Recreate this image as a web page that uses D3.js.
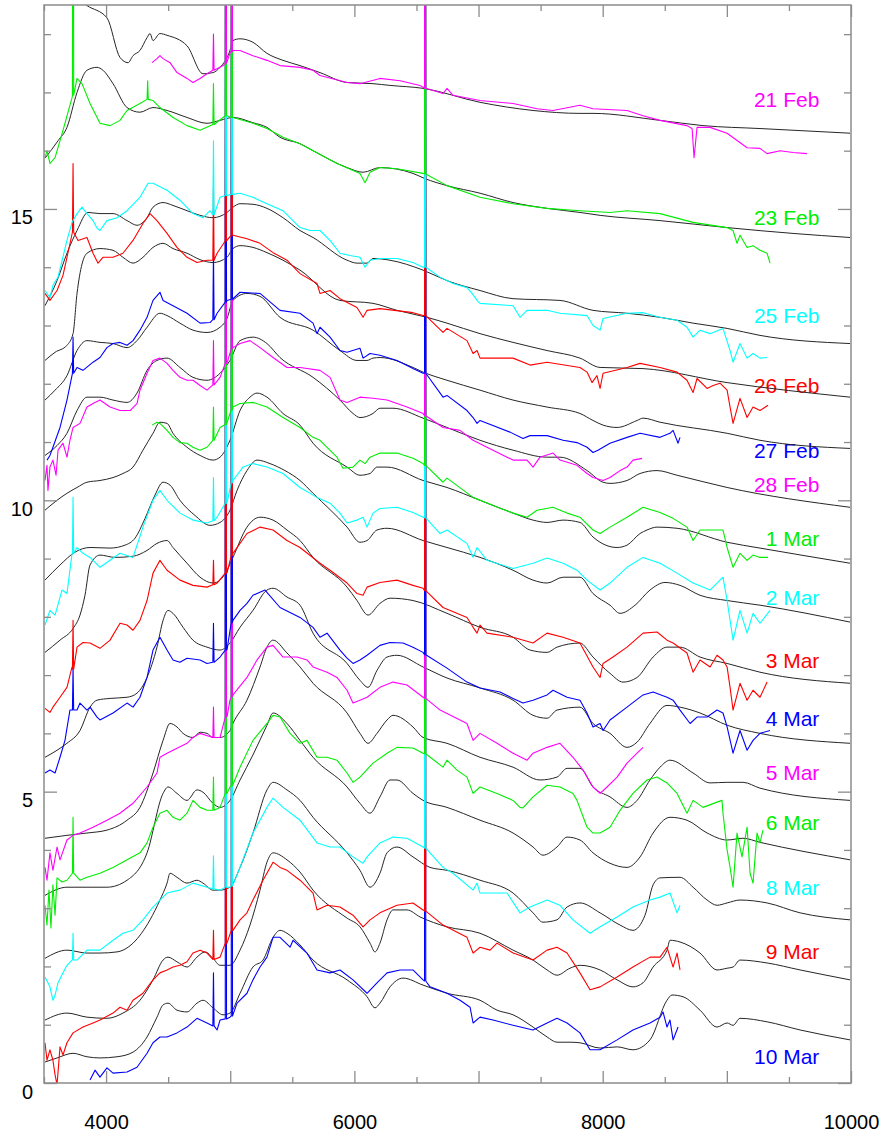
<!DOCTYPE html>
<html>
<head>
<meta charset="utf-8">
<script src="https://cdn.jsdelivr.net/npm/d3@7"></script>
<style>
  body { margin: 0; background: #fff; }
  text { font-family: "Liberation Sans", Arial, Helvetica, sans-serif; }
</style>
</head>
<body>
<svg id="chart" width="885" height="1133"></svg>
<script>
// epochs, top to bottom
const epochs = ["21 Feb", "23 Feb", "25 Feb", "26 Feb", "27 Feb", "28 Feb", "1 Mar", "2 Mar",
  "3 Mar", "4 Mar", "5 Mar", "6 Mar", "8 Mar", "9 Mar", "10 Mar"];
// vertical level of each date label (flux units)
const labelLevels = [16.88, 14.85, 13.17, 11.97, 10.86, 10.27, 9.35, 8.34, 7.26, 6.25, 5.33, 4.48, 3.36, 2.25, 0.45];
const labelWave = 9745;

const xTicksMinor = d3.range(3500, 10001, 500);
const xTicksMajor = [4000, 5000, 6000, 7000, 8000, 9000, 10000];
const xTickLabels = [4000, 6000, 8000, 10000];
const yTicksMinor = d3.range(0, 19, 1);
const yTickLabels = [0, 5, 10, 15];

// observed spectra [wavelength (A), flux + offset]
const obs21Feb = [[4370,17.51],[4410,17.58],[4434,17.63],[4459,17.58],[4515,17.51],[4571,17.34],[4652,17.24],[4700,17.17],[4757,17.24],[4813,17.32],[4861,17.38],[4942,17.46],[4998,17.67],[5022,17.72],[5079,17.72],[5183,17.63],[5296,17.55],[5401,17.46],[5562,17.43],[5667,17.38],[5723,17.29],[5941,17.17],[6045,17.15],[6206,17.24],[6368,17.2],[6529,17.12],[6569,17.07],[6714,16.98],[6746,17.07],[6794,16.95],[7012,16.86],[7278,16.81],[7471,16.72],[7600,16.69],[7817,16.78],[7922,16.72],[8196,16.69],[8325,16.6],[8462,16.52],[8679,16.43],[8720,16.38],[8736,15.88],[8760,16.4],[8865,16.4],[9002,16.3],[9163,16.05],[9267,16.04],[9324,15.95],[9429,16.0],[9533,15.97],[9646,15.95]];
const obs23Feb = [[3508,15.88],[3524,16.0],[3548,15.78],[3589,15.88],[3653,16.35],[3726,16.91],[3766,17.24],[3806,17.15],[3871,16.81],[3951,16.47],[4032,16.43],[4112,16.52],[4169,16.69],[4273,16.81],[4330,16.9],[4378,16.86],[4434,16.74],[4539,16.57],[4652,16.43],[4757,16.35],[4861,16.47],[4974,16.6],[5022,16.57],[5183,16.47],[5296,16.38],[5425,16.23],[5562,16.12],[5667,16.0],[5860,15.78],[6045,15.61],[6086,15.45],[6126,15.63],[6206,15.71],[6343,15.69],[6553,15.61],[6746,15.4],[7012,15.2],[7278,15.09],[7552,15.01],[7817,14.97],[8059,14.94],[8196,14.97],[8462,14.92],[8728,14.77],[9002,14.68],[9050,14.63],[9082,14.41],[9106,14.55],[9163,14.34],[9211,14.37],[9267,14.29],[9324,14.24],[9348,14.07]];
const obs25Feb = [[3508,13.6],[3548,13.48],[3572,13.69],[3613,13.83],[3685,14.46],[3726,14.77],[3766,14.92],[3806,15.03],[3846,14.92],[3895,14.8],[3927,14.67],[3951,14.63],[4007,14.8],[4088,14.85],[4169,14.97],[4273,15.2],[4338,15.44],[4378,15.44],[4491,15.32],[4595,15.15],[4700,14.92],[4781,14.85],[4837,14.97],[4918,15.2],[4974,15.23],[5079,15.27],[5183,15.2],[5296,15.09],[5425,14.97],[5562,14.68],[5643,14.63],[5723,14.63],[5804,14.46],[5884,14.24],[5965,14.2],[6045,14.17],[6086,14.0],[6126,14.12],[6206,14.15],[6343,14.15],[6472,14.08],[6553,14.0],[6690,13.83],[6794,13.72],[6907,13.65],[6948,13.55],[6988,13.43],[7012,13.38],[7278,13.34],[7334,13.14],[7391,13.26],[7552,13.26],[7656,13.21],[7874,13.17],[7922,13.0],[7979,12.92],[8003,13.12],[8196,13.21],[8325,13.22],[8462,13.14],[8599,13.09],[8679,12.97],[8728,12.8],[8784,12.92],[8865,12.86],[8969,12.95],[9026,12.57],[9050,12.37],[9106,12.69],[9163,12.44],[9211,12.52],[9267,12.44],[9324,12.45]];
const obs26Feb = [[3508,13.55],[3548,13.43],[3605,13.6],[3653,13.86],[3685,14.17],[3734,14.63],[3774,14.46],[3846,14.51],[3895,14.24],[3935,14.07],[3975,14.17],[4056,14.17],[4136,14.24],[4217,14.46],[4297,14.75],[4354,14.92],[4410,14.8],[4491,14.58],[4571,14.34],[4652,14.17],[4732,14.08],[4813,14.12],[4894,14.24],[4974,14.46],[5022,14.55],[5135,14.49],[5240,14.41],[5345,14.25],[5457,14.12],[5562,13.89],[5699,13.72],[5723,13.55],[5804,13.6],[5884,13.46],[6021,13.31],[6070,13.14],[6102,13.26],[6206,13.29],[6472,13.22],[6553,13.17],[6714,12.88],[6746,12.95],[6907,12.74],[6956,12.52],[6988,12.57],[7012,12.44],[7278,12.44],[7415,12.32],[7552,12.37],[7817,12.28],[7874,12.2],[7914,12.02],[7954,12.14],[7979,11.92],[8003,12.18],[8196,12.28],[8301,12.35],[8462,12.28],[8599,12.2],[8679,12.06],[8728,11.85],[8760,12.09],[8841,11.92],[8889,11.97],[8945,12.01],[9002,11.89],[9026,11.6],[9050,11.32],[9106,11.75],[9163,11.42],[9211,11.6],[9267,11.54],[9332,11.63]];
const obs27Feb = [[3524,10.69],[3548,10.77],[3572,10.91],[3629,11.25],[3685,11.72],[3734,12.18],[3766,12.28],[3814,12.23],[3895,12.37],[3951,12.45],[4007,12.62],[4056,12.69],[4112,12.71],[4169,12.66],[4217,12.74],[4273,12.92],[4330,13.14],[4378,13.43],[4434,13.57],[4459,13.43],[4539,13.34],[4652,13.21],[4757,13.04],[4837,13.05],[4894,13.21],[4974,13.43],[5079,13.57],[5240,13.55],[5401,13.26],[5562,13.21],[5667,13.04],[5699,12.86],[5723,12.97],[5804,12.8],[5884,12.57],[5941,12.54],[6045,12.61],[6070,12.44],[6126,12.52],[6206,12.49],[6343,12.4],[6472,12.26],[6553,12.18],[6714,11.77],[6746,11.8],[6907,11.54],[6956,11.42],[6988,11.32],[7012,11.37],[7254,11.17],[7358,11.06],[7415,11.11],[7552,11.11],[7681,11.03],[7793,10.99],[7874,10.91],[7922,10.82],[7962,10.86],[8059,10.98],[8196,11.08],[8301,11.15],[8462,11.08],[8542,11.15],[8567,11.2],[8607,10.98],[8623,11.08]];
const obs28Feb = [[3508,10.34],[3524,10.6],[3532,10.17],[3548,10.57],[3572,10.69],[3597,10.43],[3613,10.86],[3653,10.98],[3685,10.74],[3709,11.03],[3734,11.25],[3790,11.32],[3846,11.6],[3895,11.66],[3951,11.72],[4032,11.6],[4112,11.54],[4193,11.54],[4249,11.66],[4273,11.89],[4330,12.18],[4378,12.4],[4434,12.44],[4491,12.35],[4539,12.23],[4595,12.11],[4652,12.06],[4700,12.06],[4757,11.97],[4813,11.89],[4861,12.01],[4918,12.11],[4974,12.35],[5022,12.62],[5079,12.69],[5159,12.74],[5240,12.62],[5345,12.45],[5457,12.28],[5562,12.28],[5723,12.23],[5804,12.11],[5884,11.72],[5941,11.68],[6045,11.77],[6150,11.75],[6263,11.72],[6424,11.6],[6529,11.51],[6553,11.49],[6714,11.25],[6851,11.2],[6956,11.03],[7068,10.91],[7230,10.74],[7278,10.69],[7391,10.69],[7439,10.57],[7495,10.74],[7600,10.81],[7656,10.69],[7793,10.6],[7874,10.46],[7922,10.39],[8003,10.34],[8059,10.39],[8140,10.51],[8196,10.57],[8244,10.69],[8317,10.72]];
const obs1Mar = [[4370,11.29],[4410,11.34],[4434,11.32],[4491,11.2],[4539,11.08],[4595,10.99],[4652,10.98],[4700,10.91],[4757,10.86],[4813,10.91],[4861,11.03],[4918,11.25],[4998,11.49],[5022,11.6],[5079,11.66],[5183,11.68],[5296,11.6],[5425,11.42],[5562,11.25],[5667,11.08],[5723,11.03],[5780,10.91],[5860,10.74],[5908,10.55],[5989,10.57],[6045,10.69],[6086,10.63],[6126,10.74],[6206,10.81],[6343,10.81],[6472,10.72],[6553,10.63],[6714,10.31],[6746,10.38],[6956,10.05],[7117,9.91],[7278,9.78],[7391,9.71],[7471,9.83],[7600,9.88],[7713,9.78],[7817,9.71],[7922,9.49],[7979,9.43],[8059,9.54],[8196,9.71],[8325,9.88],[8462,9.79],[8567,9.69],[8679,9.54],[8728,9.31],[8784,9.49],[8889,9.49],[8969,9.49],[9002,9.19],[9050,8.85],[9106,9.09],[9163,8.97],[9211,9.06],[9267,9.02],[9332,9.02]];
const obs2Mar = [[3508,7.86],[3548,8.11],[3589,8.03],[3645,8.46],[3685,8.4],[3726,9.09],[3766,9.19],[3814,9.09],[3871,9.02],[3951,8.85],[4032,8.97],[4112,9.09],[4217,9.02],[4297,9.54],[4378,10.0],[4434,10.17],[4491,10.0],[4595,9.78],[4700,9.66],[4813,9.61],[4894,9.71],[4974,9.95],[5022,10.34],[5103,10.57],[5183,10.63],[5296,10.57],[5425,10.46],[5562,10.22],[5699,10.05],[5804,9.95],[5884,9.78],[5941,9.61],[6021,9.66],[6070,9.71],[6102,9.54],[6150,9.78],[6206,9.86],[6343,9.88],[6472,9.79],[6553,9.71],[6690,9.43],[6746,9.49],[6907,9.26],[6956,9.02],[6988,9.19],[7068,8.97],[7278,8.83],[7439,8.92],[7552,9.01],[7681,8.92],[7793,8.8],[7874,8.63],[7979,8.46],[8059,8.58],[8196,8.85],[8325,9.02],[8462,8.92],[8599,8.75],[8728,8.58],[8865,8.46],[8969,8.68],[9002,8.28],[9050,7.6],[9106,8.11],[9163,7.72],[9211,8.06],[9267,7.89],[9348,8.11]];
const obs3Mar = [[3508,6.43],[3548,6.36],[3572,6.45],[3629,6.62],[3685,6.79],[3726,7.14],[3766,7.48],[3814,7.56],[3871,7.55],[3951,7.46],[4032,7.6],[4112,7.89],[4169,7.86],[4217,7.77],[4273,7.94],[4330,8.28],[4378,8.75],[4434,8.97],[4491,8.8],[4595,8.63],[4700,8.54],[4813,8.51],[4894,8.58],[4974,8.75],[5022,9.09],[5135,9.43],[5240,9.54],[5345,9.49],[5457,9.31],[5562,9.19],[5723,8.92],[5804,8.8],[5941,8.58],[6021,8.4],[6070,8.37],[6102,8.51],[6206,8.59],[6343,8.63],[6472,8.54],[6553,8.49],[6714,8.16],[6907,7.99],[6956,7.82],[6988,7.72],[7012,7.86],[7068,7.72],[7278,7.65],[7439,7.55],[7552,7.72],[7681,7.65],[7817,7.55],[7922,7.14],[7979,6.96],[8003,7.2],[8083,7.31],[8196,7.48],[8325,7.72],[8438,7.74],[8518,7.6],[8567,7.55],[8679,7.38],[8728,7.05],[8784,7.26],[8865,7.14],[8921,7.34],[8969,7.26],[9002,7.14],[9026,6.79],[9050,6.4],[9106,6.86],[9163,6.57],[9211,6.74],[9267,6.62],[9324,6.88]];
const obs4Mar = [[3508,5.32],[3548,5.37],[3589,5.32],[3629,5.59],[3669,5.88],[3709,6.4],[3766,6.4],[3790,6.52],[3846,6.4],[3871,6.45],[3927,6.28],[3951,6.23],[4056,6.35],[4169,6.52],[4217,6.45],[4273,6.62],[4330,6.96],[4378,7.43],[4434,7.65],[4491,7.43],[4539,7.26],[4595,7.22],[4652,7.29],[4757,7.26],[4813,7.2],[4861,7.22],[4918,7.31],[4974,7.43],[5022,7.94],[5079,8.11],[5135,8.23],[5183,8.37],[5280,8.46],[5401,8.16],[5562,7.99],[5667,7.82],[5723,7.65],[5780,7.72],[5884,7.43],[5941,7.29],[5989,7.2],[6045,7.26],[6102,7.34],[6206,7.51],[6287,7.56],[6392,7.55],[6472,7.48],[6553,7.39],[6746,7.12],[6907,6.88],[7012,6.78],[7173,6.71],[7278,6.6],[7358,6.52],[7439,6.57],[7552,6.66],[7600,6.74],[7713,6.62],[7817,6.57],[7874,6.35],[7922,6.11],[7979,6.17],[8003,6.05],[8059,6.23],[8196,6.45],[8325,6.66],[8406,6.71],[8518,6.62],[8567,6.57],[8623,6.4],[8704,6.17],[8760,6.28],[8841,6.28],[8921,6.4],[8969,6.35],[9002,6.11],[9050,5.66],[9106,6.05],[9163,5.71],[9211,5.88],[9267,6.0],[9348,6.05]];
const obs5Mar = [[3508,3.7],[3524,3.48],[3548,3.95],[3572,3.65],[3605,4.05],[3629,3.83],[3685,4.17],[3734,4.25],[3790,4.29],[3895,4.39],[4007,4.51],[4112,4.63],[4217,4.8],[4330,5.08],[4410,5.32],[4434,5.59],[4491,5.66],[4539,5.71],[4652,5.83],[4700,5.93],[4757,6.0],[4861,5.93],[4918,5.93],[4974,6.28],[4998,6.57],[5022,6.66],[5135,6.96],[5216,7.26],[5296,7.48],[5345,7.51],[5425,7.31],[5538,7.31],[5618,7.26],[5667,7.14],[5780,7.05],[5860,6.96],[5941,6.74],[5989,6.52],[6045,6.57],[6102,6.62],[6206,6.79],[6311,6.88],[6424,6.83],[6553,6.62],[6690,6.4],[6907,6.17],[6956,5.88],[7012,6.0],[7149,5.83],[7278,5.66],[7391,5.54],[7439,5.66],[7552,5.76],[7656,5.83],[7761,5.59],[7842,5.37],[7922,5.08],[7979,4.97],[8035,5.08],[8116,5.25],[8196,5.49],[8277,5.66],[8325,5.76]];
const obs6Mar = [[3508,3.05],[3524,2.71],[3540,3.31],[3556,2.66],[3572,3.4],[3589,2.88],[3605,3.52],[3645,3.45],[3685,3.48],[3734,3.6],[3790,3.48],[3846,3.53],[3951,3.6],[4056,3.7],[4169,3.83],[4273,3.95],[4330,4.12],[4378,4.39],[4434,4.63],[4491,4.68],[4539,4.56],[4595,4.51],[4652,4.63],[4700,4.85],[4757,4.73],[4813,4.68],[4861,4.68],[4918,4.73],[4974,4.97],[4998,5.08],[5079,5.42],[5183,5.88],[5296,6.17],[5345,6.31],[5401,6.28],[5482,6.0],[5562,5.83],[5618,5.88],[5699,5.59],[5780,5.59],[5860,5.54],[5941,5.32],[5989,5.16],[6045,5.25],[6150,5.49],[6263,5.66],[6343,5.76],[6472,5.75],[6553,5.66],[6714,5.42],[6746,5.54],[6827,5.37],[6907,5.25],[6956,4.97],[7012,5.08],[7149,4.97],[7278,4.85],[7334,4.73],[7358,4.72],[7439,4.91],[7552,5.11],[7656,5.08],[7761,4.97],[7793,4.85],[7874,4.39],[7922,4.29],[7979,4.29],[8059,4.39],[8140,4.68],[8244,4.97],[8357,5.2],[8438,5.25],[8518,5.15],[8599,4.97],[8679,4.63],[8728,4.85],[8808,4.73],[8921,4.82],[8961,4.85],[8969,4.63],[9002,4.0],[9026,3.7],[9050,3.36],[9082,4.29],[9122,3.88],[9163,4.39],[9187,3.6],[9211,3.43],[9243,4.29],[9267,4.12],[9291,4.34]];
const obs8Mar = [[3508,1.82],[3548,1.65],[3572,1.42],[3589,1.51],[3613,1.72],[3653,1.89],[3685,2.02],[3726,2.11],[3766,2.11],[3846,2.28],[3951,2.28],[4056,2.45],[4136,2.57],[4217,2.62],[4297,2.8],[4378,3.02],[4434,3.14],[4491,3.26],[4595,3.31],[4700,3.43],[4813,3.36],[4918,3.31],[4998,3.36],[5079,3.7],[5183,4.29],[5296,4.73],[5345,4.89],[5425,4.73],[5562,4.51],[5699,4.12],[5804,4.05],[5884,4.05],[5989,3.88],[6070,3.77],[6102,3.88],[6206,4.12],[6311,4.22],[6424,4.2],[6553,4.05],[6714,3.7],[6794,3.6],[6956,3.31],[6988,3.43],[7012,3.26],[7230,3.26],[7334,2.92],[7415,3.02],[7552,3.14],[7656,3.05],[7761,2.8],[7898,2.57],[7979,2.68],[8116,2.85],[8244,3.02],[8381,3.14],[8462,3.19],[8542,3.26],[8599,2.92],[8623,3.05]];
const obs9Mar = [[3508,0.69],[3524,0.39],[3548,0.57],[3572,0.39],[3589,0.14],[3605,-0.03],[3629,0.62],[3653,0.48],[3685,0.69],[3734,0.86],[3814,0.96],[3895,1.03],[3951,1.08],[4056,1.2],[4112,1.3],[4169,1.25],[4217,1.42],[4297,1.54],[4378,1.77],[4434,1.89],[4491,1.94],[4539,1.99],[4595,2.02],[4652,2.08],[4700,2.23],[4757,2.28],[4813,2.23],[4861,2.11],[4918,2.16],[4974,2.4],[5022,2.62],[5079,2.8],[5135,2.92],[5183,3.14],[5264,3.48],[5345,3.79],[5401,3.7],[5457,3.65],[5562,3.48],[5667,3.26],[5699,2.97],[5780,3.05],[5884,3.02],[5989,2.88],[6070,2.68],[6126,2.8],[6206,2.92],[6343,3.05],[6472,3.09],[6553,2.97],[6714,2.71],[6907,2.5],[6956,2.23],[7012,2.33],[7093,2.28],[7149,2.4],[7278,2.23],[7439,2.11],[7552,2.28],[7632,2.33],[7713,2.23],[7817,1.89],[7898,1.6],[7979,1.65],[8116,1.82],[8244,1.99],[8381,2.16],[8462,2.16],[8518,2.33],[8567,1.99],[8599,2.23],[8623,1.94]];
const obs10Mar = [[3871,0.05],[3911,0.22],[3951,0.1],[4007,0.26],[4056,0.17],[4169,0.19],[4249,0.27],[4330,0.51],[4378,0.69],[4434,0.79],[4491,0.79],[4571,0.86],[4652,0.96],[4732,1.11],[4813,1.03],[4894,0.91],[4918,1.08],[4998,1.13],[5055,1.37],[5135,1.54],[5183,1.77],[5240,1.99],[5296,2.16],[5345,2.5],[5401,2.5],[5482,2.33],[5506,2.45],[5618,2.23],[5699,1.94],[5804,1.89],[5884,1.94],[5989,1.77],[6102,1.54],[6182,1.72],[6263,1.89],[6368,1.94],[6472,1.94],[6553,1.77],[6609,1.65],[6746,1.54],[6851,1.42],[6932,1.3],[6956,1.03],[7012,1.13],[7117,1.08],[7278,0.99],[7439,0.91],[7552,1.03],[7632,1.11],[7713,1.03],[7817,0.86],[7898,0.57],[7979,0.57],[8116,0.74],[8244,0.91],[8381,1.03],[8462,1.13],[8486,1.22],[8518,0.96],[8542,1.08],[8567,0.74],[8607,0.96]];

// narrow emission lines of each observed spectrum: [wavelength, continuum, peak]
const lines21Feb = [[4865,17.38,18.0],[4965,17.5,30],[5013,17.7,30],[6570,17.07,30]];
const lines23Feb = [[3734,16.95,30],[4335,16.88,17.2],[4865,16.45,17.15],[4965,16.6,30],[5013,16.57,30],[6570,15.6,30]];
const lines25Feb = [[4865,14.9,16.17],[4965,15.23,30],[5013,15.25,30],[6570,14.0,30]];
const lines26Feb = [[3734,14.6,15.78],[4865,14.12,15.37],[4965,14.45,30],[5013,14.55,30],[6570,13.17,30]];
const lines27Feb = [[3734,12.18,12.8],[4865,13.1,14.29],[4965,13.4,30],[5013,13.45,30],[6570,12.18,30]];
const lines28Feb = [[4865,11.98,12.74],[4965,12.35,30],[5013,12.6,30],[6570,11.45,30]];
const lines1Mar = [[4865,11.03,11.6],[4965,11.3,30],[5013,11.55,30],[6570,10.6,30]];
const lines2Mar = [[3734,9.09,10.05],[4865,9.65,10.39],[4965,9.95,30],[5013,10.3,30],[6570,9.7,30]];
const lines3Mar = [[3734,7.1,7.94],[4865,8.55,8.97],[4965,8.75,30],[5013,9.05,30],[6570,8.45,30]];
const lines4Mar = [[3734,6.4,7.14],[4865,7.22,7.89],[4965,7.43,30],[5013,7.9,30],[6570,7.35,30]];
const lines5Mar = [[4865,5.93,6.45],[4965,6.28,30],[5013,6.63,30],[6570,6.6,30]];
const lines6Mar = [[3734,3.6,4.56],[4865,4.68,5.25],[4965,4.97,30],[5013,5.1,30],[6570,5.65,30]];
const lines8Mar = [[3734,2.11,2.57],[4865,3.33,3.9],[4965,3.36,30],[5013,3.38,30],[6570,4.03,30]];
const lines9Mar = [[4865,2.12,2.62],[4965,2.4,30],[5013,2.62,30],[6570,2.95,30]];
const lines10Mar = [[4865,0.98,1.89],[4965,1.1,30],[5013,1.15,30],[6570,1.75,30]];

// model spectra
const mod21Feb = [[3510,19.09],[3685,18.75],[3846,18.49],[4007,18.28],[4112,17.6],[4177,17.51],[4217,17.63],[4273,17.72],[4330,17.94],[4354,18.01],[4378,17.89],[4434,18.01],[4491,17.98],[4652,17.8],[4781,17.32],[4861,17.34],[4918,17.43],[4998,17.72],[5022,17.89],[5079,17.92],[5183,17.86],[5296,17.67],[5425,17.55],[5562,17.46],[5723,17.34],[5941,17.17],[6150,17.15],[6287,17.12],[6553,17.07],[7012,16.83],[7439,16.69],[7817,16.64],[7922,16.64],[8462,16.52],[8808,16.43],[9267,16.38],[9992,16.3]];
const mod23Feb = [[3508,15.87],[3613,16.17],[3685,16.4],[3766,17.0],[3846,17.38],[3927,17.43],[3975,17.38],[4056,17.15],[4169,16.74],[4273,16.66],[4378,16.74],[4491,16.69],[4652,16.57],[4813,16.47],[4918,16.52],[5022,16.57],[5183,16.48],[5296,16.4],[5401,16.23],[5562,16.12],[5667,16.0],[5941,15.71],[6070,15.63],[6206,15.71],[6472,15.61],[6569,15.52],[6746,15.4],[7012,15.27],[7278,15.11],[7552,15.01],[7817,14.94],[7979,14.89],[8462,14.8],[9002,14.68],[9533,14.58],[9992,14.51]];
const mod25Feb = [[3508,13.34],[3605,13.77],[3685,14.24],[3766,14.63],[3854,14.94],[3951,14.92],[4056,14.92],[4169,14.8],[4249,14.72],[4330,14.85],[4378,15.03],[4459,15.11],[4539,15.06],[4652,14.97],[4757,14.89],[4861,14.85],[4974,14.94],[5022,15.03],[5079,15.09],[5183,15.08],[5296,15.01],[5425,14.85],[5562,14.63],[5667,14.51],[5941,14.12],[6021,14.07],[6102,14.07],[6150,14.15],[6287,14.12],[6553,13.95],[6746,13.77],[7012,13.6],[7278,13.46],[7656,13.43],[7922,13.26],[8196,13.21],[8462,13.14],[8728,13.04],[9002,12.95],[9267,12.83],[9992,12.69]];
const mod26Feb = [[3508,12.4],[3589,12.54],[3685,12.66],[3734,12.86],[3766,13.55],[3846,14.24],[3951,14.32],[4056,14.29],[4136,14.17],[4217,14.07],[4297,14.17],[4378,14.34],[4459,14.41],[4539,14.32],[4652,14.24],[4757,14.13],[4861,14.08],[4974,14.17],[5022,14.32],[5079,14.37],[5183,14.34],[5296,14.25],[5425,14.12],[5562,13.95],[5884,13.43],[6150,13.38],[6343,13.26],[6585,13.14],[6746,13.04],[7012,12.86],[7278,12.71],[7552,12.57],[7817,12.44],[7979,12.28],[8325,12.26],[9002,12.02],[9992,11.77]];
const mod27Feb = [[3508,11.72],[3589,11.89],[3685,12.14],[3766,12.57],[3846,12.74],[3951,12.71],[4056,12.69],[4169,12.62],[4249,12.74],[4330,12.97],[4434,13.21],[4491,13.17],[4595,13.04],[4700,12.92],[4813,12.88],[4918,12.97],[4974,13.12],[5022,13.43],[5135,13.55],[5240,13.5],[5401,13.14],[5667,12.92],[5884,12.57],[6021,12.4],[6102,12.4],[6150,12.44],[6206,12.45],[6472,12.28],[6553,12.2],[6746,12.06],[7012,11.89],[7278,11.72],[7552,11.6],[7817,11.49],[7922,11.37],[8003,11.29],[8116,11.25],[8277,11.37],[8325,11.41],[8462,11.34],[9002,11.15],[9267,11.03],[9992,10.89]];
const mod28Feb = [[3508,10.77],[3605,10.94],[3685,11.15],[3766,11.54],[3846,11.77],[3951,11.77],[4056,11.72],[4169,11.68],[4249,11.84],[4330,12.23],[4410,12.4],[4491,12.44],[4595,12.28],[4700,12.11],[4813,12.06],[4918,12.18],[4998,12.4],[5079,12.74],[5183,12.8],[5296,12.69],[5401,12.45],[5667,12.11],[5884,11.72],[5989,11.49],[6045,11.42],[6150,11.49],[6206,11.58],[6311,11.58],[6553,11.41],[6746,11.25],[7012,11.03],[7278,10.86],[7552,10.74],[7656,10.74],[7874,10.51],[8003,10.31],[8059,10.29],[8196,10.34],[8301,10.46],[8438,10.51],[8599,10.43],[9002,10.22],[9992,9.88]];
const mod1Mar = [[3508,9.83],[3605,10.0],[3685,10.12],[3766,10.22],[3846,10.31],[3951,10.34],[4056,10.39],[4136,10.46],[4217,10.57],[4297,10.86],[4378,11.15],[4434,11.34],[4491,11.32],[4539,11.15],[4652,10.91],[4757,10.77],[4861,10.69],[4918,10.74],[4998,11.03],[5079,11.54],[5159,11.77],[5216,11.84],[5296,11.77],[5425,11.49],[5562,11.29],[5667,10.98],[5941,10.57],[6045,10.43],[6126,10.46],[6182,10.57],[6263,10.57],[6553,10.34],[6746,10.22],[7012,10.0],[7278,9.78],[7439,9.66],[7552,9.62],[7681,9.66],[7817,9.62],[7922,9.37],[8116,9.19],[8196,9.23],[8301,9.43],[8357,9.49],[8438,9.54],[8599,9.52],[9002,9.28],[9267,9.18],[9992,8.92]];
const mod2Mar = [[3508,8.63],[3629,8.89],[3750,9.11],[3871,9.19],[4032,9.18],[4152,9.23],[4233,9.35],[4314,9.69],[4394,10.09],[4459,10.31],[4515,10.26],[4595,10.0],[4716,9.74],[4837,9.57],[4918,9.62],[4998,9.83],[5055,10.17],[5135,10.51],[5216,10.69],[5320,10.63],[5441,10.51],[5562,10.34],[5667,10.12],[5941,9.54],[6045,9.28],[6102,9.31],[6182,9.49],[6263,9.52],[6553,9.31],[6746,9.19],[7012,9.02],[7278,8.8],[7439,8.63],[7552,8.58],[7681,8.68],[7817,8.68],[7922,8.4],[8059,8.2],[8140,8.06],[8261,8.2],[8381,8.46],[8502,8.59],[8623,8.54],[8784,8.37],[9002,8.28],[9267,8.2],[9992,7.91]];
const mod3Mar = [[3508,7.39],[3629,7.6],[3734,7.8],[3790,8.03],[3830,8.37],[3871,8.89],[3951,9.06],[4072,9.02],[4217,9.04],[4330,9.14],[4410,9.26],[4491,9.31],[4539,9.19],[4652,8.92],[4757,8.68],[4861,8.58],[4918,8.63],[4974,8.8],[5022,9.02],[5135,9.54],[5240,9.71],[5345,9.66],[5457,9.49],[5562,9.31],[5667,9.02],[5941,8.51],[6021,8.28],[6110,8.03],[6206,8.23],[6287,8.32],[6472,8.28],[6746,8.06],[7012,7.82],[7278,7.65],[7415,7.43],[7552,7.39],[7632,7.48],[7817,7.55],[7922,7.31],[8059,7.03],[8164,6.88],[8277,6.96],[8406,7.31],[8518,7.48],[8623,7.48],[8784,7.31],[9002,7.2],[9267,7.05],[9992,6.86]];
const mod4Mar = [[3508,5.59],[3605,5.71],[3685,5.83],[3790,6.05],[3871,6.45],[3927,6.57],[4032,6.6],[4169,6.62],[4249,6.69],[4330,6.96],[4410,7.48],[4459,7.94],[4499,8.11],[4539,8.06],[4620,7.82],[4700,7.6],[4813,7.48],[4918,7.43],[4998,7.55],[5079,7.82],[5183,8.11],[5296,8.46],[5345,8.49],[5457,8.34],[5562,8.2],[5667,7.72],[5941,7.2],[6045,6.91],[6110,6.79],[6182,7.08],[6263,7.31],[6343,7.34],[6553,7.14],[6746,6.95],[7012,6.78],[7278,6.57],[7439,6.31],[7552,6.26],[7632,6.4],[7817,6.45],[7922,6.17],[8059,6.0],[8196,5.76],[8277,5.85],[8381,6.17],[8518,6.48],[8623,6.45],[8784,6.35],[9002,6.14],[9267,6.0],[9992,5.83]];
const mod5Mar = [[3508,4.2],[3685,4.25],[3846,4.29],[4007,4.34],[4169,4.51],[4273,4.73],[4378,5.32],[4459,5.88],[4515,6.17],[4571,6.11],[4620,6.0],[4700,5.93],[4757,6.02],[4813,6.0],[4861,5.93],[4918,5.93],[4998,6.05],[5022,6.17],[5135,6.57],[5240,7.14],[5296,7.48],[5345,7.6],[5457,7.38],[5562,7.14],[5667,6.86],[5941,6.35],[6045,6.0],[6110,5.83],[6182,6.0],[6263,6.23],[6311,6.31],[6472,6.11],[6553,5.93],[6746,5.83],[7012,5.59],[7278,5.42],[7495,5.2],[7632,5.25],[7713,5.4],[7817,5.4],[7922,5.08],[8059,4.91],[8196,4.73],[8277,4.85],[8381,5.2],[8462,5.42],[8542,5.54],[8728,5.32],[8865,5.15],[9002,5.16],[9130,5.16],[9267,5.06],[9992,4.85]];
const mod6Mar = [[3508,3.22],[3685,3.36],[3846,3.36],[4007,3.36],[4169,3.48],[4330,3.95],[4459,4.97],[4499,5.08],[4571,4.97],[4652,4.85],[4732,5.03],[4781,4.99],[4861,4.8],[4918,4.73],[4998,4.85],[5079,5.2],[5183,5.63],[5296,6.14],[5345,6.35],[5457,6.17],[5562,5.88],[5667,5.59],[5941,5.08],[6045,4.8],[6126,4.63],[6206,4.91],[6287,5.2],[6343,5.2],[6472,4.97],[6553,4.85],[6746,4.73],[7012,4.51],[7278,4.29],[7439,4.05],[7519,3.91],[7632,4.05],[7713,4.22],[7817,4.17],[7922,3.95],[8059,3.77],[8196,3.7],[8301,3.88],[8406,4.29],[8542,4.56],[8679,4.51],[8841,4.29],[9002,4.17],[9130,4.2],[9267,4.13],[9992,3.83]];
const mod8Mar = [[3508,2.14],[3685,2.28],[3846,2.23],[3951,2.23],[4088,2.25],[4217,2.4],[4354,2.8],[4434,3.14],[4491,3.43],[4515,3.6],[4571,3.53],[4652,3.43],[4732,3.48],[4781,3.43],[4861,3.31],[4918,3.31],[4998,3.36],[5079,3.7],[5183,4.29],[5296,5.03],[5345,5.16],[5457,5.03],[5562,4.85],[5667,4.56],[5941,3.95],[6045,3.65],[6126,3.36],[6206,3.6],[6263,3.95],[6343,4.05],[6472,3.88],[6609,3.7],[6746,3.65],[7012,3.48],[7278,3.26],[7439,2.92],[7519,2.76],[7632,2.8],[7713,3.02],[7817,3.09],[7979,2.92],[8140,2.71],[8244,2.62],[8341,2.88],[8406,3.4],[8462,3.52],[8623,3.53],[8728,3.36],[8841,3.14],[8921,3.05],[9002,3.09],[9106,3.14],[9324,3.09],[9590,2.92],[9992,2.8]];
const mod9Mar = [[3508,1.08],[3685,1.2],[3846,1.13],[4007,1.11],[4136,1.2],[4273,1.42],[4378,1.77],[4459,2.11],[4499,2.16],[4571,2.08],[4652,1.99],[4732,2.16],[4797,2.25],[4861,2.14],[4918,2.02],[4998,2.02],[5079,2.28],[5159,2.71],[5240,3.31],[5296,3.79],[5345,3.95],[5457,3.83],[5562,3.62],[5667,3.31],[5941,2.83],[6045,2.68],[6126,2.4],[6166,2.25],[6206,2.4],[6263,2.8],[6311,2.97],[6424,2.97],[6529,2.85],[6746,2.68],[7012,2.57],[7278,2.28],[7439,2.11],[7552,1.94],[7632,1.85],[7737,1.97],[7817,2.02],[7979,1.94],[8116,1.77],[8244,1.65],[8325,1.72],[8406,1.99],[8518,2.28],[8542,2.45],[8623,2.42],[8784,2.23],[8921,1.94],[9002,1.97],[9050,1.99],[9106,2.11],[9324,2.06],[9590,1.94],[9992,1.77]];
const mod10Mar = [[3508,0.36],[3605,0.43],[3734,0.51],[3846,0.45],[3951,0.43],[4088,0.45],[4217,0.53],[4330,0.79],[4410,1.13],[4459,1.34],[4499,1.37],[4571,1.25],[4652,1.22],[4732,1.37],[4781,1.42],[4861,1.29],[4942,1.17],[4998,1.2],[5079,1.54],[5183,1.99],[5264,2.11],[5345,2.5],[5401,2.62],[5457,2.57],[5562,2.37],[5667,2.11],[5941,1.77],[6102,1.48],[6166,1.29],[6206,1.37],[6287,1.65],[6392,1.8],[6553,1.68],[6746,1.54],[7012,1.42],[7149,1.25],[7278,1.17],[7439,0.96],[7552,0.79],[7632,0.7],[7737,0.7],[7817,0.69],[7979,0.6],[8116,0.62],[8244,0.57],[8381,0.74],[8518,1.42],[8558,1.51],[8647,1.48],[8784,1.25],[8921,0.96],[9002,1.03],[9050,0.99],[9106,1.11],[9324,1.05],[9590,0.91],[9992,0.74]];

const observed = [obs21Feb, obs23Feb, obs25Feb, obs26Feb, obs27Feb, obs28Feb, obs1Mar, obs2Mar,
  obs3Mar, obs4Mar, obs5Mar, obs6Mar, obs8Mar, obs9Mar, obs10Mar];
const emission = [lines21Feb, lines23Feb, lines25Feb, lines26Feb, lines27Feb, lines28Feb, lines1Mar, lines2Mar,
  lines3Mar, lines4Mar, lines5Mar, lines6Mar, lines8Mar, lines9Mar, lines10Mar];
const models = [mod21Feb, mod23Feb, mod25Feb, mod26Feb, mod27Feb, mod28Feb, mod1Mar, mod2Mar,
  mod3Mar, mod4Mar, mod5Mar, mod6Mar, mod8Mar, mod9Mar, mod10Mar];

const palette = ["#ff00ff", "#00ee00", "#00ffff", "#ff0000", "#0000ff"];
const colorOf = i => palette[i % palette.length];

const svg = d3.select("#chart");
const x = d3.scaleLinear().domain([3500, 10000]).range([44, 851]);
const y = d3.scaleLinear().domain([0, 18.5]).range([1083, 5]);
const [x0, x1] = x.range(), [y0, y1] = y.range();

svg.append("defs").append("clipPath").attr("id", "plot-clip")
  .append("rect").attr("x", x0).attr("y", y1).attr("width", x1 - x0).attr("height", y0 - y1);

// put the narrow emission lines into a spectrum
function withLines(points, lines) {
  const keep = points.filter(p => !lines.some(l => Math.abs(p[0] - l[0]) < 8));
  const extra = [];
  lines.forEach(l => extra.push([l[0] - 5, l[1]], [l[0], l[2]], [l[0] + 5, l[1]]));
  return keep.concat(extra).sort((a, b) => a[0] - b[0]);
}

// date labels
svg.append("g").selectAll("text")
  .data(epochs)
  .join("text")
  .attr("x", x(labelWave))
  .attr("y", (d, i) => y(labelLevels[i]))
  .attr("dy", "0.36em")
  .attr("text-anchor", "end")
  .attr("font-size", 21)
  .attr("fill", (d, i) => colorOf(i))
  .text(d => d);

const line = d3.line().x(d => x(d[0])).y(d => y(d[1]));
const smooth = d3.line().x(d => x(d[0])).y(d => y(d[1])).curve(d3.curveMonotoneX);
const plot = svg.append("g").attr("clip-path", "url(#plot-clip)");

plot.append("g").attr("class", "models").selectAll("path")
  .data(models)
  .join("path")
  .attr("d", smooth)
  .attr("fill", "none")
  .attr("stroke", "#262626")
  .attr("stroke-width", 1);

// observed spectra, latest first so the earlier ones sit on top
const order = d3.range(observed.length).reverse();
plot.append("g").attr("class", "observed").selectAll("path")
  .data(order)
  .join("path")
  .attr("d", i => line(withLines(observed[i], emission[i])))
  .attr("fill", "none")
  .attr("stroke", i => colorOf(i))
  .attr("stroke-width", 1.1)
  .attr("stroke-linejoin", "round");

// frame and ticks
const frameColor = "#8c8c8c";
function styleAxis(g) {
  g.select(".domain").remove();
  g.selectAll(".tick line").attr("stroke", frameColor).attr("stroke-width", 1.3);
  g.selectAll("text").attr("font-size", 20).attr("fill", "#000")
    .attr("font-family", "'Liberation Sans', Arial, Helvetica, sans-serif");
}
const noLabel = () => "";
const xLabel = d => xTickLabels.includes(d) ? d : "";
const yLabel = d => yTickLabels.includes(d) ? d : "";

svg.append("g").attr("transform", `translate(0,${y0})`)
  .call(d3.axisBottom(x).tickValues(xTicksMinor.filter(v => !xTicksMajor.includes(v))).tickSize(-6).tickFormat(noLabel)).call(styleAxis);
svg.append("g").attr("transform", `translate(0,${y0})`)
  .call(d3.axisBottom(x).tickValues(xTicksMajor).tickSize(-12).tickPadding(32).tickFormat(xLabel)).call(styleAxis);
svg.append("g").attr("transform", `translate(0,${y1})`)
  .call(d3.axisTop(x).tickValues(xTicksMinor.filter(v => !xTicksMajor.includes(v))).tickSize(-6).tickFormat(noLabel)).call(styleAxis);
svg.append("g").attr("transform", `translate(0,${y1})`)
  .call(d3.axisTop(x).tickValues(xTicksMajor).tickSize(-12).tickFormat(noLabel)).call(styleAxis);

svg.append("g").attr("transform", `translate(${x0},0)`)
  .call(d3.axisLeft(y).tickValues(yTicksMinor.filter(v => !yTickLabels.includes(v))).tickSize(-7).tickFormat(noLabel)).call(styleAxis);
const yAxisG = svg.append("g").attr("transform", `translate(${x0},0)`)
  .call(d3.axisLeft(y).tickValues(yTickLabels).tickSize(-13).tickPadding(11).tickFormat(yLabel)).call(styleAxis);
yAxisG.selectAll("text").attr("dy", "0.75em");
svg.append("g").attr("transform", `translate(${x1},0)`)
  .call(d3.axisRight(y).tickValues(yTicksMinor.filter(v => !yTickLabels.includes(v))).tickSize(-7).tickFormat(noLabel)).call(styleAxis);
svg.append("g").attr("transform", `translate(${x1},0)`)
  .call(d3.axisRight(y).tickValues(yTickLabels).tickSize(-13).tickFormat(noLabel)).call(styleAxis);

svg.append("rect")
  .attr("x", x0).attr("y", y1).attr("width", x1 - x0).attr("height", y0 - y1)
  .attr("fill", "none").attr("stroke", frameColor).attr("stroke-width", 1.5);
</script>
</body>
</html>
